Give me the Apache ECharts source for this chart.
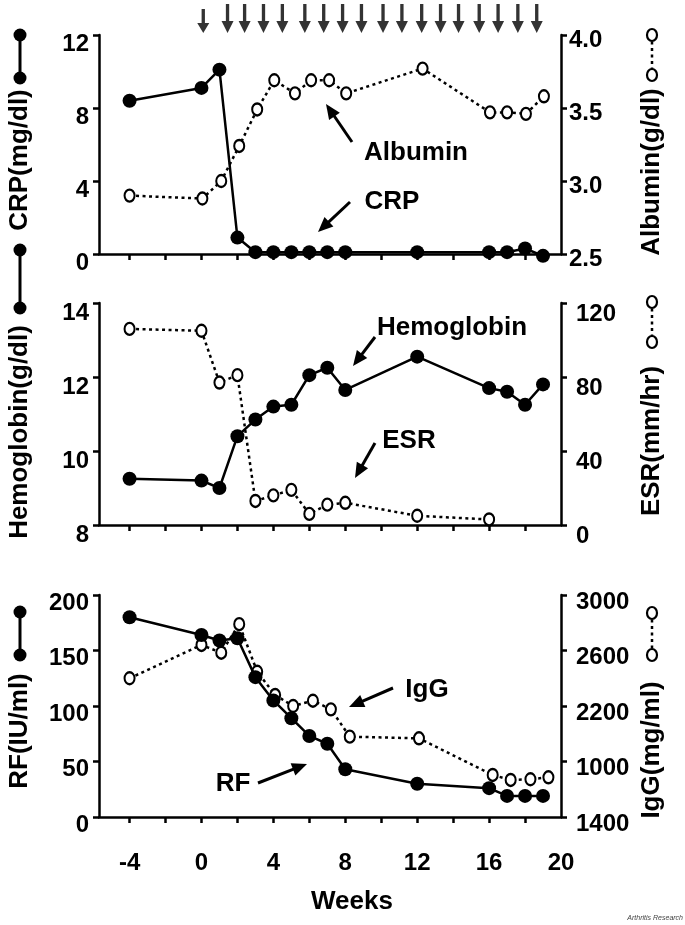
<!DOCTYPE html>
<html><head><meta charset="utf-8">
<script src="https://cdn.jsdelivr.net/npm/echarts@6/dist/echarts.min.js"></script>
<style>html,body{margin:0;padding:0;background:#fff}#c{width:685px;height:925px}</style>
</head><body><div id="c"></div>
<script>
// ---- data ----
const weeks = [-4, 0, 1, 2, 3, 4, 5, 6, 7, 8, 12, 16, 17, 18, 19];
const crp = [8.4, 9.1, 10.1, 0.9, 0.1, 0.1, 0.1, 0.1, 0.1, 0.1, 0.1, 0.1, 0.1, 0.3, -0.1];
const albuminWeeks = [-4, 0.05, 1.1, 2.1, 3.1, 4.05, 5.2, 6.1, 7.1, 8.05, 12.3, 16.05, 17, 18.05, 19.05];
const albumin = [2.9, 2.88, 3.0, 3.24, 3.49, 3.69, 3.6, 3.69, 3.69, 3.6, 3.77, 3.47, 3.47, 3.46, 3.58];
const hemoglobin = [9.25, 9.2, 9.0, 10.4, 10.85, 11.2, 11.25, 12.05, 12.25, 11.65, 12.55, 11.7, 11.6, 11.25, 11.8];
const esrWeeks = [-4, 0, 1, 2, 3, 4, 5, 6, 7, 8, 12, 16];
const esr = [106, 105, 77, 81, 13, 16, 19, 6, 11, 12, 5, 3];
const rf = [180, 164, 159, 161, 126, 105, 89, 73, 66, 43, 30, 26, 19, 19, 19];
const iggWeeks = [-4, 0, 1.1, 2.1, 3.1, 4.1, 5.1, 6.2, 7.2, 8.25, 12.1, 16.2, 17.2, 18.3, 19.3];
const igg = [2400, 2640, 2584, 2790, 2447, 2279, 2200, 2238, 2176, 1979, 1967, 1703, 1667, 1672, 1686];
const arrowWeeks = [0.1, 1.45, 2.4, 3.45, 4.5, 5.75, 6.8, 7.85, 8.9, 10.1, 11.15, 12.25, 13.3, 14.3, 15.45, 16.5, 17.6, 18.65];
const xTickWeeks = [-4, -2, 0, 2, 4, 6, 8, 10, 12, 14, 16, 18];
const xLabelWeeks = [-4, 0, 4, 8, 12, 16, 20];
const iggTickValues = [1400, 1800, 2200, 2600, 3000];
const iggTickLabels = ['1400', '1000', '2200', '2600', '3000'];

const FONT = "'Liberation Sans', Arial, Helvetica, sans-serif";
const zip = (xs, ys) => xs.map((x, i) => [x, ys[i]]);

const chart = echarts.init(document.getElementById('c'), null, {renderer: 'canvas'});

const G = {left: 99, right: 124};
const grids = [
  Object.assign({top: 35, height: 219}, G),
  Object.assign({top: 303, height: 222}, G),
  Object.assign({top: 595, height: 222}, G),
  Object.assign({top: 4, height: 29}, G)
];

function xAx(i, showLabels, hidden) {
  return {
    type: 'value', gridIndex: i, min: -5.7, max: 20, show: !hidden,
    axisLine: {show: true, onZero: false, lineStyle: {color: '#000', width: 2.5}},
    axisTick: {show: true, customValues: xTickWeeks, length: 6, lineStyle: {color: '#000', width: 2.5}},
    axisLabel: {show: showLabels, customValues: xLabelWeeks, margin: 34, color: '#000',
      fontSize: 24, fontWeight: 'bold', fontFamily: FONT},
    splitLine: {show: false}
  };
}
function yAx(i, pos, opt) {
  return Object.assign({
    type: 'value', gridIndex: i, position: pos,
    axisLine: {show: true, onZero: false, lineStyle: {color: '#000', width: 2.5}},
    axisTick: {show: true, length: 6, lineStyle: {color: '#000', width: 2.5}},
    splitLine: {show: false}
  }, opt, {
    axisLabel: Object.assign({color: '#000', fontSize: 24, fontWeight: 'bold', fontFamily: FONT,
      margin: 10, verticalAlign: 'top'}, opt.axisLabel || {})
  });
}

const lineSolid = {color: '#000', width: 2.5};
const lineDot = {color: '#000', width: 2.5, type: [3, 3.5], cap: 'butt'};
const filled = {color: '#000'};
const open = {color: '#fff', borderColor: '#000', borderWidth: 2.2};

const arrowPath = 'path://M4.2,0 L7.8,0 L7.8,17 L12.5,17 L6,29 L-0.5,17 L4.2,17 Z';

const option = {
  animation: false,
  backgroundColor: '#fff',
  grid: grids,
  xAxis: [xAx(0, false), xAx(1, false), xAx(2, true), xAx(3, false, true)],
  yAxis: [
    yAx(0, 'left', {min: 0, max: 12, interval: 4, axisLabel: {lineHeight: 18}}),
    yAx(0, 'right', {min: 2.5, max: 4.0, interval: 0.5,
      axisLabel: {lineHeight: 10, margin: 8, formatter: v => v.toFixed(1)}}),
    yAx(1, 'left', {min: 8, max: 14, interval: 2, axisLabel: {lineHeight: 20}}),
    yAx(1, 'right', {min: 0, max: 120, interval: 40, axisLabel: {lineHeight: 22, margin: 15}}),
    yAx(2, 'left', {min: 0, max: 200, interval: 50, axisLabel: {lineHeight: 16}}),
    yAx(2, 'right', {min: 1400, max: 3000,
      axisTick: {show: true, customValues: iggTickValues, length: 6, lineStyle: {color: '#000', width: 2.5}},
      axisLabel: {customValues: iggTickValues, lineHeight: 14, margin: 15,
        formatter: v => iggTickLabels[iggTickValues.indexOf(v)]}}),
    {type: 'value', gridIndex: 3, min: 0, max: 1, show: false}
  ],
  series: [
    {name: 'Albumin', type: 'line', xAxisIndex: 0, yAxisIndex: 1, data: zip(albuminWeeks, albumin),
      symbol: 'circle', symbolSize: [10, 12], itemStyle: open, lineStyle: lineDot, z: 3},
    {name: 'CRP', type: 'line', xAxisIndex: 0, yAxisIndex: 0, data: zip(weeks, crp),
      symbol: 'circle', symbolSize: 14, itemStyle: filled, lineStyle: lineSolid, z: 4, clip: false},
    {name: 'ESR', type: 'line', xAxisIndex: 1, yAxisIndex: 3, data: zip(esrWeeks, esr),
      symbol: 'circle', symbolSize: [10, 12], itemStyle: open, lineStyle: lineDot, z: 3},
    {name: 'Hemoglobin', type: 'line', xAxisIndex: 1, yAxisIndex: 2, data: zip(weeks, hemoglobin),
      symbol: 'circle', symbolSize: 14, itemStyle: filled, lineStyle: lineSolid, z: 4},
    {name: 'IgG', type: 'line', xAxisIndex: 2, yAxisIndex: 5, data: zip(iggWeeks, igg),
      symbol: 'circle', symbolSize: [10, 12], itemStyle: open, lineStyle: lineDot, z: 3},
    {name: 'RF', type: 'line', xAxisIndex: 2, yAxisIndex: 4, data: zip(weeks, rf),
      symbol: 'circle', symbolSize: 14, itemStyle: filled, lineStyle: lineSolid, z: 4},
    {name: 'Treatment', type: 'scatter', xAxisIndex: 3, yAxisIndex: 6,
      data: arrowWeeks.map((w, i) => i === 0
        ? {value: [w, 0.5], symbolSize: [12, 24], symbolOffset: [0, 2.5]}
        : {value: [w, 0.5]}),
      symbol: arrowPath, symbolSize: [12, 29], itemStyle: {color: '#000'}, silent: true}
  ]
};
chart.setOption(option);

// ---- decorations: axis titles with legend glyphs, annotation arrows ----
const g = [];
function vText(text, x, y) {
  g.push({type: 'text', x: x, y: y, rotation: Math.PI / 2,
    style: {text: text, fill: '#000', font: 'bold 26px ' + FONT, align: 'center', verticalAlign: 'middle'}});
}
function filledGlyph(x, y1, y2) {
  g.push({type: 'line', shape: {x1: x, y1: y1, x2: x, y2: y2}, style: {stroke: '#000', lineWidth: 3}});
  g.push({type: 'circle', shape: {cx: x, cy: y1, r: 6.5}, style: {fill: '#000'}});
  g.push({type: 'circle', shape: {cx: x, cy: y2, r: 6.5}, style: {fill: '#000'}});
}
function openGlyph(x, y1, y2) {
  g.push({type: 'line', shape: {x1: x, y1: y1, x2: x, y2: y2},
    style: {stroke: '#000', lineWidth: 2.5, lineDash: [3, 3.5]}});
  g.push({type: 'ellipse', shape: {cx: x, cy: y1, rx: 5, ry: 6}, style: {fill: '#fff', stroke: '#000', lineWidth: 2.2}});
  g.push({type: 'ellipse', shape: {cx: x, cy: y2, rx: 5, ry: 6}, style: {fill: '#fff', stroke: '#000', lineWidth: 2.2}});
}
function annArrow(x1, y1, x2, y2) {
  const dx = x2 - x1, dy = y2 - y1, L = Math.hypot(dx, dy), ux = dx / L, uy = dy / L;
  const hl = 15, hw = 6.5, bx = x2 - ux * hl, by = y2 - uy * hl;
  g.push({type: 'line', shape: {x1: x1, y1: y1, x2: bx + ux * 2, y2: by + uy * 2}, style: {stroke: '#000', lineWidth: 3}});
  g.push({type: 'polygon', shape: {points: [[x2, y2], [bx - uy * hw, by + ux * hw], [bx + uy * hw, by - ux * hw]]},
    style: {fill: '#000'}});
}
function label(text, x, y) {
  g.push({type: 'text', x: x, y: y,
    style: {text: text, fill: '#000', font: 'bold 26px ' + FONT, align: 'center', verticalAlign: 'middle'}});
}

// left titles
filledGlyph(20, 35, 78);  vText('CRP(mg/dl)', 20, 160);
filledGlyph(20, 250, 308); vText('Hemoglobin(g/dl)', 20, 432);
filledGlyph(20, 612, 655); vText('RF(IU/ml)', 20, 731);
// right titles
openGlyph(652, 35, 75);   vText('Albumin(g/dl)', 652, 172);
openGlyph(652, 302, 342); vText('ESR(mm/hr)', 652, 441);
openGlyph(652, 613, 655); vText('IgG(mg/ml)', 652, 750);

// annotations
label('Albumin', 416, 153); annArrow(352, 142, 326, 104);
label('CRP', 392, 202);     annArrow(350, 202, 318, 232);
label('Hemoglobin', 452, 328); annArrow(375, 337, 353, 366);
label('ESR', 409, 441);     annArrow(375, 443, 355, 478);
label('IgG', 427, 690);     annArrow(393, 688, 349, 707);
label('RF', 233, 784);      annArrow(258, 783, 307, 764);

// x title and credit
label('Weeks', 352, 902);
g.push({type: 'text', x: 683, y: 918, style: {text: 'Arthritis Research', fill: '#444',
  font: 'italic 7px ' + FONT, align: 'right', verticalAlign: 'middle'}});

chart.setOption({graphic: {elements: g}});
</script>
</body></html>
